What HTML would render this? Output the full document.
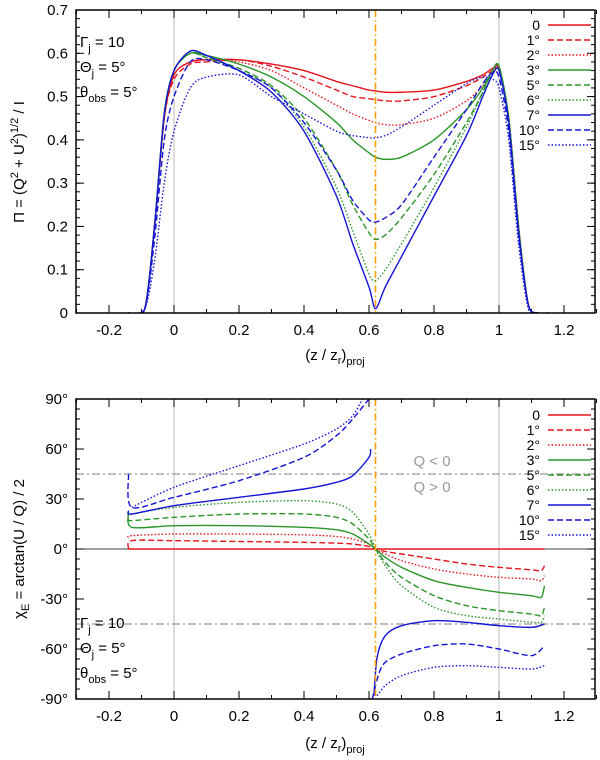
<!DOCTYPE html>
<html><head><meta charset="utf-8"><style>
body{margin:0;background:#fff;}
svg{display:block;font-family:"Liberation Sans",sans-serif;}
</style></head><body>
<svg id="c" width="600" height="760">
<defs>
<clipPath id="clipTop"><rect x="76" y="10" width="519" height="303"/></clipPath>
<clipPath id="clipBot"><rect x="76" y="399" width="519" height="300"/></clipPath>
</defs>
</svg>
<script>
const xTicks=[-0.2,0,0.2,0.4,0.6,0.8,1,1.2];
const xTickLabels=["-0.2","0","0.2","0.4","0.6","0.8","1","1.2"];
const topYTicks=[0,0.1,0.2,0.3,0.4,0.5,0.6,0.7];
const topYLabels=["0","0.1","0.2","0.3","0.4","0.5","0.6","0.7"];
const botYTicks=[-90,-60,-30,0,30,60,90];
const botYLabels=["-90°","-60°","-30°","0°","30°","60°","90°"];
const seriesNames=["0","1°","2°","3°","5°","6°","7°","10°","15°"];
const topX=[-0.14,-0.09,-0.06,-0.03,0,0.05,0.1,0.2,0.3,0.4,0.5,0.55,0.6,0.62,0.65,0.7,0.8,0.9,0.95,0.98,1.0,1.03,1.06,1.09,1.12,1.15];
const topS0=[0,0.01,0.2,0.45,0.55,0.58,0.585,0.585,0.575,0.56,0.535,0.525,0.515,0.513,0.51,0.51,0.515,0.535,0.55,0.565,0.565,0.45,0.2,0.02,0,0];
const topS1=[0,0.01,0.2,0.45,0.54,0.575,0.58,0.585,0.57,0.545,0.515,0.5,0.495,0.493,0.49,0.49,0.5,0.525,0.545,0.56,0.565,0.45,0.2,0.02,0,0];
const topS2=[0,0.01,0.2,0.45,0.55,0.58,0.585,0.58,0.56,0.52,0.48,0.46,0.445,0.44,0.435,0.435,0.45,0.49,0.525,0.555,0.565,0.45,0.2,0.02,0,0];
const topS3=[0,0.01,0.2,0.46,0.56,0.6,0.595,0.575,0.545,0.5,0.44,0.4,0.37,0.36,0.355,0.36,0.4,0.47,0.52,0.56,0.57,0.45,0.2,0.02,0,0];
const topS5=[0,0.01,0.2,0.46,0.56,0.6,0.59,0.565,0.525,0.45,0.33,0.25,0.185,0.17,0.18,0.22,0.32,0.44,0.51,0.56,0.57,0.45,0.2,0.02,0,0];
const topS6=[0,0.01,0.2,0.46,0.56,0.6,0.59,0.56,0.52,0.43,0.29,0.19,0.09,0.075,0.1,0.16,0.29,0.43,0.51,0.56,0.57,0.45,0.2,0.02,0,0];
const topS7=[0,0.01,0.2,0.46,0.56,0.605,0.595,0.56,0.51,0.42,0.27,0.16,0.06,0.01,0.06,0.13,0.27,0.41,0.5,0.55,0.56,0.44,0.19,0.02,0,0];
const topS10=[0,0.01,0.17,0.4,0.5,0.58,0.585,0.56,0.52,0.44,0.33,0.26,0.215,0.21,0.22,0.25,0.36,0.47,0.53,0.555,0.545,0.42,0.18,0.02,0,0];
const topS15=[0,0.01,0.12,0.3,0.42,0.52,0.545,0.55,0.5,0.46,0.42,0.41,0.405,0.405,0.41,0.43,0.48,0.53,0.545,0.54,0.52,0.4,0.16,0.01,0,0];
const botX0=[-0.14,1.14];
const botS0=[0,0];
const botX1=[-0.14,-0.13,0,0.2,0.4,0.5,0.55,0.6,0.62,0.65,0.7,0.8,0.9,1.0,1.1,1.13,1.14];
const botS1=[0,5,5,4.5,4,3.5,3,1.5,0,-1.5,-3,-6,-9,-11,-12.5,-13,-10];
const botS2=[7,8,9,9,8.5,7.5,6,3,0,-3,-7,-12,-15,-17,-18,-19,-16];
const botS3=[22,13,14,14,13,11.5,9,3,0,-5,-11,-19,-23,-26,-28,-29,-22];
const botS5=[18,17,19,21,21,19,15,6,0,-8,-17,-28,-34,-37,-39,-40,-35];
const botS6=[20,21,25,28,29,27,22,9,0,-10,-22,-35,-40,-42,-44,-44,-40];
const botX7=[-0.14,-0.13,0,0.2,0.4,0.5,0.55,0.6,0.605,null,0.615,0.625,0.65,0.7,0.8,0.9,1.0,1.1,1.14];
const botS7=[23,21,26,31,36,40,44,55,60,null,-88,-65,-52,-46,-43,-44,-46,-47,-45];
const botX10=[-0.14,-0.13,0,0.2,0.4,0.5,0.55,0.6,null,0.61,0.63,0.65,0.7,0.8,0.9,1.0,1.1,1.14];
const botS10=[45,25,31,41,55,68,78,90,null,-90,-75,-68,-63,-58,-57,-60,-64,-58];
const botX15=[-0.13,0,0.2,0.4,0.5,0.55,0.58,null,0.625,0.65,0.7,0.8,0.9,1.0,1.1,1.14];
const botS15=[25,37,50,63,72,80,90,null,-88,-82,-76,-71,-70,-71,-72,-70];

const NS="http://www.w3.org/2000/svg";
const svg=document.getElementById('c');
const L=76,R=595;
const sx=v=>174+v*325;
const syT=v=>313-v/0.7*303;
const syB=v=>549-v*75/45;
function el(t,a,p){const e=document.createElementNS(NS,t);for(const k in a)e.setAttribute(k,a[k]);(p||svg).appendChild(e);return e;}
function txt(x,y,s,anchor,size,fill){const e=el('text',{x:x,y:y,'text-anchor':anchor||'middle','font-size':size||15,fill:fill||'#000'});e.innerHTML=s;return e;}
function smooth(pts){let d='';if(pts.length<2)return d;d='M'+pts[0][0]+','+pts[0][1];
 for(let i=0;i<pts.length-1;i++){const p0=pts[Math.max(0,i-1)],p1=pts[i],p2=pts[i+1],p3=pts[Math.min(pts.length-1,i+2)];
  const t=0.14;d+=' C'+(p1[0]+(p2[0]-p0[0])*t)+','+(p1[1]+(p2[1]-p0[1])*t)+' '+(p2[0]-(p3[0]-p1[0])*t)+','+(p2[1]-(p3[1]-p1[1])*t)+' '+p2[0]+','+p2[1];}
 return d;}
function pathFrom(xs,ys,sy){let segs=[],cur=[];for(let i=0;i<xs.length;i++){if(xs[i]===null||ys[i]===null){if(cur.length)segs.push(cur);cur=[];continue;}cur.push([sx(xs[i]),sy(ys[i])]);}if(cur.length)segs.push(cur);return segs.map(smooth).join(' ');}
const colors=["#e8141c","#e8141c","#e8141c","#2a962a","#2a962a","#2a962a","#1414d8","#1414d8","#1414d8"];
const dashes=["none","6,3","1.5,2","none","6,3","1.5,2","none","6,3","1.5,2"];

function panel(top,bot,yTicks,yLabels,sy,minorStep,ymin,ymax,name){
 const g=el('g',{});
 
 
 el('line',{x1:sx(0),x2:sx(0),y1:top,y2:bot,stroke:'#bbb','stroke-width':1},g);
 el('line',{x1:sx(1),x2:sx(1),y1:top,y2:bot,stroke:'#bbb','stroke-width':1},g);
 for(let v=-0.3;v<=1.301;v+=0.1){const x=sx(v),maj=Math.abs(Math.round(v*10)%2)===0;const len=maj?8:4;
  el('line',{x1:x,x2:x,y1:bot,y2:bot-len,stroke:'#000'},g);el('line',{x1:x,x2:x,y1:top,y2:top+len,stroke:'#000'},g);}
 xTicks.forEach((v,i)=>{const t=txt(sx(v),bot+22,xTickLabels[i]);});
 for(let v=ymin;v<=ymax+1e-9;v+=minorStep){const y=sy(v);el('line',{x1:L,x2:L+4,y1:y,y2:y,stroke:'#000'},g);el('line',{x1:R,x2:R-4,y1:y,y2:y,stroke:'#000'},g);}
 yTicks.forEach((v,i)=>{const y=sy(v);el('line',{x1:L,x2:L+8,y1:y,y2:y,stroke:'#000'},g);el('line',{x1:R,x2:R-8,y1:y,y2:y,stroke:'#000'},g);
  const t=txt(L-8,y+5,yLabels[i],'end');});
 return g;}

// TOP PANEL
panel(10,313,topYTicks,topYLabels,syT,0.02,0,0.7,'top-panel');
const topG=el('g',{'clip-path':'url(#clipTop)'});
const topSeries=[topS0,topS1,topS2,topS3,topS5,topS6,topS7,topS10,topS15];
topSeries.forEach((s,i)=>{const p=el('path',{d:pathFrom(topX,s,syT),fill:'none',stroke:colors[i],'stroke-width':1.4,'stroke-dasharray':dashes[i]},topG);
 });
el('line',{x1:sx(0.62),x2:sx(0.62),y1:10,y2:313,stroke:'#f5a000','stroke-width':1.6,'stroke-dasharray':'7,3,1.5,3'});
el('rect',{x:L,y:10,width:R-L,height:303,fill:'none',stroke:'#000','stroke-width':1.5});

// BOTTOM PANEL
panel(399,699,botYTicks,botYLabels,syB,6,-90,90,'bottom-panel');
el('line',{x1:L,x2:R,y1:syB(0),y2:syB(0),stroke:'#000','stroke-width':0.8});
el('line',{x1:L,x2:R,y1:syB(45),y2:syB(45),stroke:'#999','stroke-width':1.3,'stroke-dasharray':'8,3,2,3'});
el('line',{x1:L,x2:R,y1:syB(-45),y2:syB(-45),stroke:'#999','stroke-width':1.3,'stroke-dasharray':'8,3,2,3'});
txt(432,466,'Q &lt; 0','middle',15,'#999');
txt(432,492,'Q &gt; 0','middle',15,'#999');
const botG=el('g',{'clip-path':'url(#clipBot)'});
const botSets=[[botX0,botS0],[botX1,botS1],[botX1,botS2],[botX1,botS3],[botX1,botS5],[botX1,botS6],[botX7,botS7],[botX10,botS10],[botX15,botS15]];
botSets.forEach((s,i)=>{const p=el('path',{d:pathFrom(s[0],s[1],syB),fill:'none',stroke:colors[i],'stroke-width':1.4,'stroke-dasharray':dashes[i]},botG);
 });
el('line',{x1:sx(0.62),x2:sx(0.62),y1:399,y2:699,stroke:'#f5a000','stroke-width':1.6,'stroke-dasharray':'7,3,1.5,3'});
el('rect',{x:L,y:399,width:R-L,height:300,fill:'none',stroke:'#000','stroke-width':1.5});

// legends
function legend(y0,name){seriesNames.forEach((n,i)=>{const y=y0+i*15;const t=txt(540,y+5,n,'end',14);
 
 el('line',{x1:548,x2:591,y1:y,y2:y,stroke:colors[i],'stroke-width':1.5,'stroke-dasharray':dashes[i]});});}
legend(25,'top-legend');legend(415,'bottom-legend');

// annotations
function annot(y){txt(80,y,'Γ<tspan dy="5" font-size="11">j</tspan><tspan dy="-5"> = 10</tspan>','start');
 txt(80,y+25,'Θ<tspan dy="5" font-size="11">j</tspan><tspan dy="-5"> = 5°</tspan>','start');
 txt(80,y+50,'θ<tspan dy="5" font-size="11">obs</tspan><tspan dy="-5"> = 5°</tspan>','start');}
annot(47);annot(628);

// axis titles
function xtitle(y){const t=txt(335,y,'');
 t.innerHTML='(z / z<tspan dy="4" font-size="11">r</tspan><tspan dy="-4">)</tspan><tspan dy="5" font-size="11">proj</tspan>';
 }
xtitle(360);xtitle(748);
const yt1=el('text',{x:0,y:0,'text-anchor':'middle','font-size':15,transform:'translate(24,162) rotate(-90)'});
yt1.innerHTML='Π = (Q<tspan dy="-6" font-size="11">2</tspan><tspan dy="6"> + U</tspan><tspan dy="-6" font-size="11">2</tspan><tspan dy="6">)</tspan><tspan dy="-6" font-size="11">1/2</tspan><tspan dy="6"> / I</tspan>';
const yt2=el('text',{x:0,y:0,'text-anchor':'middle','font-size':15,transform:'translate(24,549) rotate(-90)'});
yt2.innerHTML='χ<tspan dy="5" font-size="11">E</tspan><tspan dy="-5"> = arctan(U / Q) / 2</tspan>';
</script>
</body></html>
